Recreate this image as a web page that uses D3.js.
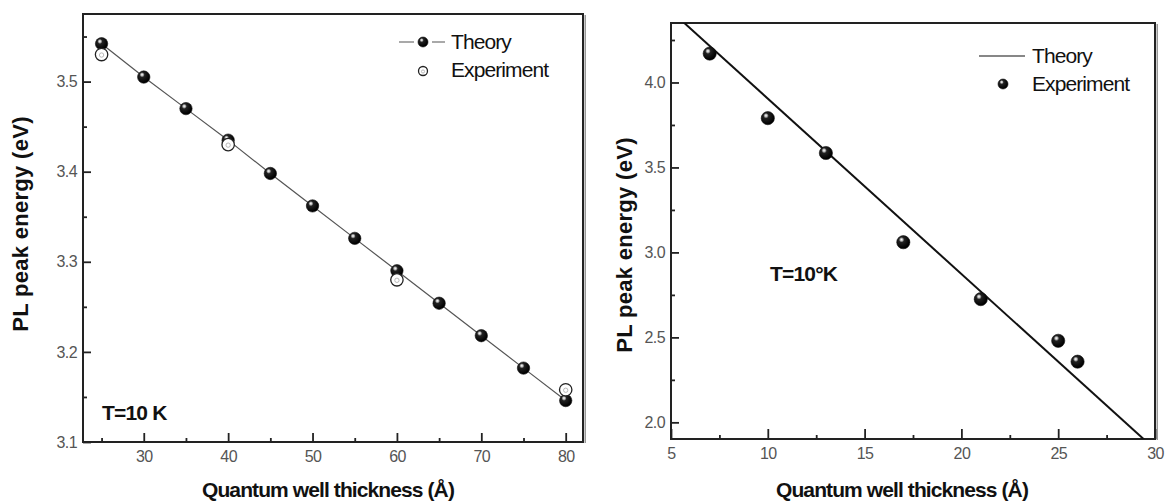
<!DOCTYPE html>
<html>
<head>
<meta charset="utf-8">
<script src="https://cdn.jsdelivr.net/npm/d3@7"></script>
<style>
  body { margin: 0; background: #fff; }
  svg { display: block; }
  .tick text { font-family: "Liberation Sans", Arial, sans-serif; fill: #555; letter-spacing: -0.6px; }
  .tick line { stroke: #222; stroke-width: 1.8; }
</style>
</head>
<body>
<div id="chart"></div>
<script>
var svgWidth = 1165;
var svgHeight = 501;

// left panel: 10 K series
var leftThickness = [25, 30, 35, 40, 45, 50, 55, 60, 65, 70, 75, 80];
var leftTheory = [3.542, 3.505, 3.470, 3.435, 3.398, 3.362, 3.326, 3.290, 3.254, 3.218, 3.182, 3.146];
var leftExpThickness = [25, 40, 60, 80];
var leftExperiment = [3.530, 3.430, 3.280, 3.158];
var leftXTicks = [30, 40, 50, 60, 70, 80];
var leftXMinor = [25, 35, 45, 55, 65, 75];
var leftYTicks = [3.1, 3.2, 3.3, 3.4, 3.5];
var leftYMinor = [3.15, 3.25, 3.35, 3.45, 3.55];

// right panel
var rightTheoryThickness = [5, 30];
var rightTheory = [4.421, 1.841];
var rightExpThickness = [7, 10, 13, 17, 21, 25, 26];
var rightExperiment = [4.17, 3.79, 3.585, 3.06, 2.725, 2.48, 2.357];
var rightXTicks = [5, 10, 15, 20, 25, 30];
var rightXMinor = [7.5, 12.5, 17.5, 22.5, 27.5];
var rightYTicks = [2.0, 2.5, 3.0, 3.5, 4.0];
var rightYMinor = [2.25, 2.75, 3.25, 3.75, 4.25];

var svg = d3.select("#chart")
  .append("svg")
  .attr("width", svgWidth)
  .attr("height", svgHeight);

// shaded ball marker
var defs = svg.append("defs");
var ball = defs.append("radialGradient")
  .attr("id", "ball")
  .attr("cx", "38%").attr("cy", "35%").attr("r", "60%")
  .attr("fx", "36%").attr("fy", "30%");
ball.append("stop").attr("offset", "0%").attr("stop-color", "#fff");
ball.append("stop").attr("offset", "16%").attr("stop-color", "#bbb");
ball.append("stop").attr("offset", "34%").attr("stop-color", "#222");
ball.append("stop").attr("offset", "100%").attr("stop-color", "#000");

function drawBall(g, x, y, r) {
  g.append("circle").attr("cx", x).attr("cy", y).attr("r", r)
    .attr("fill", "url(#ball)").attr("stroke", "#111").attr("stroke-width", 0.6);
}

function drawOpen(g, x, y, r) {
  g.append("circle").attr("cx", x).attr("cy", y).attr("r", r)
    .attr("fill", "#fff").attr("stroke", "#222").attr("stroke-width", 1.3);
  g.append("circle").attr("cx", x).attr("cy", y + 0.5).attr("r", r * 0.35)
    .attr("fill", "none").attr("stroke", "#aaa").attr("stroke-width", 0.8);
}

function drawPanel(p) {
  var w = p.x1 - p.x0;
  var h = p.y1 - p.y0;
  var g = svg.append("g").attr("transform", `translate(${p.x0}, ${p.y0})`);

  var x = d3.scaleLinear().domain(p.xDomain).range([0, w]);
  var y = d3.scaleLinear().domain(p.yDomain).range([h, 0]);

  g.append("clipPath").attr("id", p.id + "-clip")
    .append("rect").attr("width", w).attr("height", h);

  // frame
  g.append("rect").attr("x", w + 1.5).attr("y", 1).attr("width", 1.5).attr("height", h)
    .attr("fill", "#999");
  g.append("rect").attr("width", w).attr("height", h)
    .attr("fill", "none").attr("stroke", "#222").attr("stroke-width", 2);

  // minor ticks
  g.append("g").attr("transform", `translate(0, ${h})`)
    .call(d3.axisBottom(x).tickValues(p.xMinor).tickSize(-p.minorLen).tickFormat(""))
    .call(a => a.select(".domain").remove());
  g.append("g")
    .call(d3.axisLeft(y).tickValues(p.yMinor.filter(v => v < p.yDomain[1])).tickSize(-p.minorLen).tickFormat(""))
    .call(a => a.select(".domain").remove());

  // major ticks
  var xAxis = g.append("g").attr("transform", `translate(0, ${h})`)
    .call(d3.axisBottom(x).tickValues(p.xTicks).tickSize(-p.xMajorLen).tickPadding(9).tickFormat(d3.format("d")))
    .call(a => a.select(".domain").remove());
  xAxis.selectAll("text").style("font-size", "16px");

  var yAxis = g.append("g")
    .call(d3.axisLeft(y).tickValues(p.yTicks).tickSize(-8).tickPadding(6).tickFormat(d3.format(".1f")))
    .call(a => a.select(".domain").remove());
  yAxis.selectAll("text").style("font-size", "16px");

  // theory line
  var line = d3.line().x(d => x(d[0])).y(d => y(d[1]));
  g.append("path")
    .datum(p.theoryX.map((v, i) => [v, p.theoryY[i]]))
    .attr("clip-path", `url(#${p.id}-clip)`)
    .attr("d", line)
    .attr("fill", "none")
    .attr("stroke", p.lineColor)
    .attr("stroke-width", p.lineWidth);

  var marks = g.append("g");
  if (p.theoryBalls) {
    p.theoryX.forEach((v, i) => drawBall(marks, x(v), y(p.theoryY[i]), 6.2));
  }
  p.expX.forEach((v, i) => {
    if (p.expOpen) drawOpen(marks, x(v), y(p.expY[i]), 6.2);
    else drawBall(marks, x(v), y(p.expY[i]), 6.6);
  });

  // axis titles
  svg.append("text")
    .attr("x", p.xTitleX).attr("y", 497)
    .attr("text-anchor", "middle")
    .style("font-family", "Liberation Sans, Arial, sans-serif")
    .style("font-weight", "bold").style("font-size", "21px")
    .style("letter-spacing", "-0.9px")
    .attr("fill", "#111")
    .text("Quantum well thickness (Å)");

  svg.append("text")
    .attr("transform", `translate(${p.yTitleX}, ${p.yTitleY}) rotate(-90)`)
    .attr("text-anchor", "middle")
    .attr("dy", "0.35em")
    .style("font-family", "Liberation Sans, Arial, sans-serif")
    .style("font-weight", "bold").style("font-size", "22px")
    .style("letter-spacing", "0.3px")
    .attr("fill", "#111")
    .text("PL peak energy (eV)");

  // temperature note
  svg.append("text")
    .attr("x", p.noteX).attr("y", p.noteY)
    .style("font-family", "Liberation Sans, Arial, sans-serif")
    .style("font-weight", "bold").style("font-size", "21px")
    .style("letter-spacing", "-0.8px")
    .attr("fill", "#111")
    .text(p.note);

  // legend
  var lg = svg.append("g").attr("transform", `translate(${p.legendX}, ${p.legendY})`);
  lg.append("line").attr("x1", -24).attr("x2", 22).attr("y1", 0).attr("y2", 0)
    .attr("stroke", p.lineColor).attr("stroke-width", 1.2);
  if (p.theoryBalls) {
    lg.append("rect").attr("x", -9).attr("y", -3).attr("width", 18).attr("height", 6).attr("fill", "#fff");
    drawBall(lg, 0, 0, 5);
  }
  if (p.expOpen) drawOpen(lg, 0, 29, 4.5);
  else drawBall(lg, 0, 28, 5);
  var labels = ["Theory", "Experiment"];
  lg.selectAll("text.leg").data(labels).enter().append("text")
    .attr("class", "leg")
    .attr("x", p.legendTextDx)
    .attr("y", (d, i) => 7 + i * 28)
    .style("font-family", "Liberation Sans, Arial, sans-serif")
    .style("font-size", "21px")
    .style("letter-spacing", "-0.9px")
    .attr("fill", "#111")
    .text(d => d);
}

drawPanel({
  id: "left", x0: 83, x1: 583, y0: 14, y1: 442,
  xDomain: [22.8, 82.05], yDomain: [3.1, 3.575],
  xTicks: leftXTicks, xMinor: leftXMinor, yTicks: leftYTicks, yMinor: leftYMinor,
  xMajorLen: 9, minorLen: 4,
  theoryX: leftThickness, theoryY: leftTheory, theoryBalls: true,
  lineColor: "#555", lineWidth: 1.2,
  expX: leftExpThickness, expY: leftExperiment, expOpen: true,
  xTitleX: 328, yTitleX: 20, yTitleY: 224,
  note: "T=10 K", noteX: 102, noteY: 420,
  legendX: 423, legendY: 42, legendTextDx: 28
});

drawPanel({
  id: "right", x0: 671, x1: 1155, y0: 23, y1: 439,
  xDomain: [5, 30], yDomain: [1.902, 4.35],
  xTicks: rightXTicks, xMinor: rightXMinor, yTicks: rightYTicks, yMinor: rightYMinor,
  xMajorLen: 10, minorLen: 4,
  theoryX: rightTheoryThickness, theoryY: rightTheory, theoryBalls: false,
  lineColor: "#111", lineWidth: 2,
  expX: rightExpThickness, expY: rightExperiment, expOpen: false,
  xTitleX: 902, yTitleX: 624, yTitleY: 245,
  note: "T=10°K", noteX: 770, noteY: 281,
  legendX: 1003, legendY: 56, legendTextDx: 29
});
</script>
</body>
</html>
